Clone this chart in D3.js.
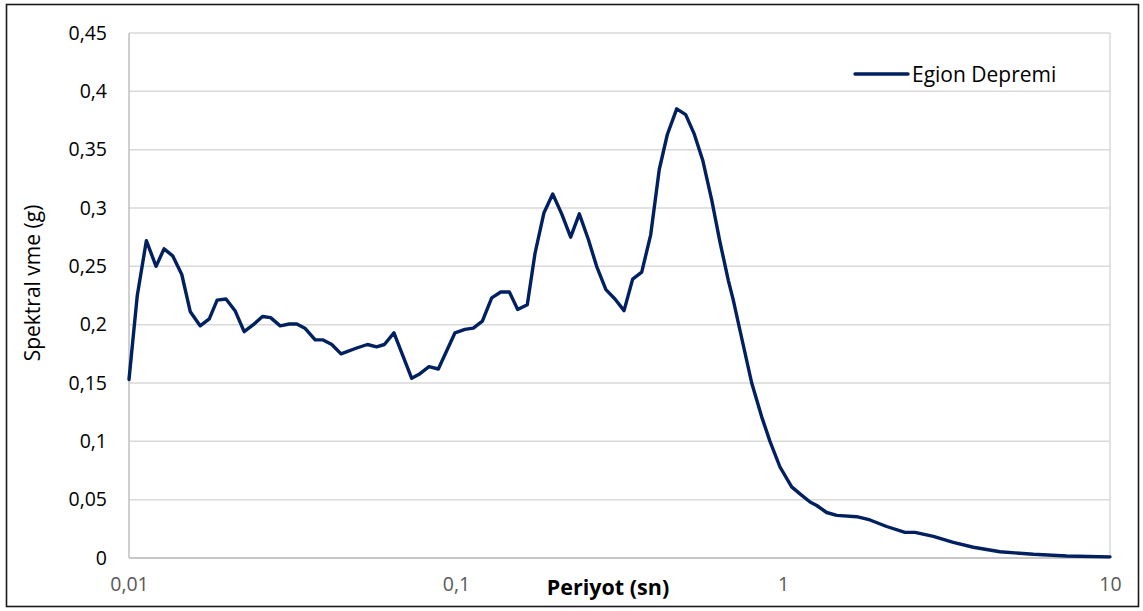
<!DOCTYPE html>
<html>
<head>
<meta charset="utf-8">
<script src="https://cdn.jsdelivr.net/npm/d3@7"></script>
<style>
  html, body { margin: 0; padding: 0; background: #fff; }
  svg { display: block; }
  text { font-family: "Open Sans", "Noto Sans", sans-serif; }
</style>
</head>
<body>
<svg id="chart" width="1143" height="611"></svg>
<script>
const periods = [0.0100,0.0106,0.0113,0.0121,0.0128,0.0136,0.0145,0.0154,0.0165,0.0176,
  0.0186,0.0198,0.0211,0.0225,0.0240,0.0256,0.0271,0.0290,0.0309,0.0326,
  0.0345,0.0371,0.0391,0.0417,0.0445,0.0497,0.0536,0.0572,0.0604,0.0646,
  0.0732,0.0776,0.0827,0.0883,0.0993,0.1065,0.113,0.1204,0.1286,0.137,
  0.1456,0.1544,0.1652,0.1744,0.1858,0.1976,0.2105,0.2242,0.2383,0.254,
  0.2692,0.2874,0.3063,0.3265,0.3469,0.3698,0.3939,0.4184,0.4429,0.4731,
  0.5039,0.5343,0.5682,0.6053,0.6414,0.6804,0.7047,0.7388,0.8023,0.8607,
  0.9124,0.979,1.063,1.127,1.21,1.268,1.36,1.46,1.68,1.845,
  2.075,2.361,2.533,2.883,3.317,3.819,4.609,5.83,7.37,10];
const accel = [0.153,0.225,0.272,0.250,0.265,0.259,0.243,0.211,0.199,0.205,
  0.221,0.222,0.212,0.194,0.200,0.207,0.206,0.199,0.2006,0.2006,
  0.197,0.187,0.187,0.183,0.175,0.180,0.183,0.181,0.183,0.193,
  0.154,0.158,0.164,0.162,0.193,0.196,0.197,0.203,0.223,0.228,
  0.228,0.213,0.217,0.261,0.296,0.312,0.295,0.275,0.295,0.273,
  0.250,0.230,0.222,0.212,0.239,0.245,0.277,0.333,0.363,0.385,
  0.380,0.364,0.341,0.307,0.271,0.238,0.221,0.195,0.150,0.121,
  0.100,0.078,0.061,0.055,0.048,0.045,0.039,0.0365,0.0354,0.0326,
  0.027,0.022,0.022,0.0185,0.0134,0.0092,0.0054,0.0032,0.0017,0.001];
const xTicks = [0.01, 0.1, 1, 10];
const xTickLabels = ["0,01", "0,1", "1", "10"];
const yTicks = [0, 0.05, 0.1, 0.15, 0.2, 0.25, 0.3, 0.35, 0.4, 0.45];
const yTickLabels = ["0", "0,05", "0,1", "0,15", "0,2", "0,25", "0,3", "0,35", "0,4", "0,45"];
const seriesName = "Egion Depremi";
const xTitle = "Periyot (sn)";
const yTitle = "Spektral vme (g)";

const svg = d3.select("#chart");
const plot = { left: 129, right: 1110, top: 33, bottom: 558 };

svg.append("rect").attr("x", 6.5).attr("y", 4.5).attr("width", 1132).attr("height", 602)
  .attr("fill", "#fff").attr("stroke", "#1a1a1a").attr("stroke-width", 1.6);

const x = d3.scaleLog().domain([0.01, 10]).range([plot.left, plot.right]);
const y = d3.scaleLinear().domain([0, 0.45]).range([plot.bottom, plot.top]);

// gridlines
svg.append("g").selectAll("line").data(yTicks).join("line")
  .attr("x1", plot.left).attr("x2", plot.right)
  .attr("y1", d => y(d)).attr("y2", d => y(d))
  .attr("stroke", "#d9d9d9").attr("stroke-width", 1.5);
svg.append("line").attr("x1", plot.left).attr("x2", plot.left).attr("y1", plot.top).attr("y2", plot.bottom)
  .attr("stroke", "#bfbfbf").attr("stroke-width", 1.5);
svg.append("line").attr("x1", plot.right).attr("x2", plot.right).attr("y1", plot.top).attr("y2", plot.bottom)
  .attr("stroke", "#d9d9d9").attr("stroke-width", 1.5);
svg.append("line").attr("x1", plot.left).attr("x2", plot.right).attr("y1", plot.bottom).attr("y2", plot.bottom)
  .attr("stroke", "#bfbfbf").attr("stroke-width", 1.5);

// y axis labels
const yAxis = d3.axisLeft(y).tickValues(yTicks).tickSize(0).tickPadding(22)
  .tickFormat((d, i) => yTickLabels[i]);
const gy = svg.append("g").attr("transform", `translate(${plot.left},0)`).call(yAxis);
gy.select(".domain").remove();
gy.selectAll("text").attr("font-size", 19.5).attr("fill", "#000")
  .style("font-family", '"Open Sans", sans-serif');

// x axis labels
const xAxis = d3.axisBottom(x).tickValues(xTicks).tickSize(0).tickPadding(19)
  .tickFormat((d, i) => xTickLabels[i]);
const gx = svg.append("g").attr("transform", `translate(0,${plot.bottom})`).call(xAxis);
gx.select(".domain").remove();
gx.selectAll("text").attr("font-size", 19.5).attr("fill", "#595959")
  .style("font-family", '"Open Sans", sans-serif');

// line
const data = periods.map((p, i) => ({ p, v: accel[i] }));
const line = d3.line().x(d => x(d.p)).y(d => y(d.v)).curve(d3.curveLinear);
svg.append("path").datum(data).attr("d", line)
  .attr("fill", "none").attr("stroke", "#002060").attr("stroke-width", 3.4)
  .attr("stroke-linejoin", "round").attr("stroke-linecap", "round");

// titles
svg.append("text").attr("x", 608).attr("y", 595).attr("text-anchor", "middle")
  .attr("font-size", 21.5).attr("font-weight", "bold").attr("fill", "#000").text(xTitle);
svg.append("text").attr("transform", `translate(40,283) rotate(-90)`).attr("text-anchor", "middle")
  .attr("font-size", 21).attr("fill", "#000").text(yTitle);

// legend
svg.append("line").attr("x1", 855).attr("x2", 908).attr("y1", 74).attr("y2", 74)
  .attr("stroke", "#002060").attr("stroke-width", 3.4).attr("stroke-linecap", "round");
svg.append("text").attr("x", 912).attr("y", 82).attr("font-size", 21).attr("fill", "#000").text(seriesName);
</script>
</body>
</html>
